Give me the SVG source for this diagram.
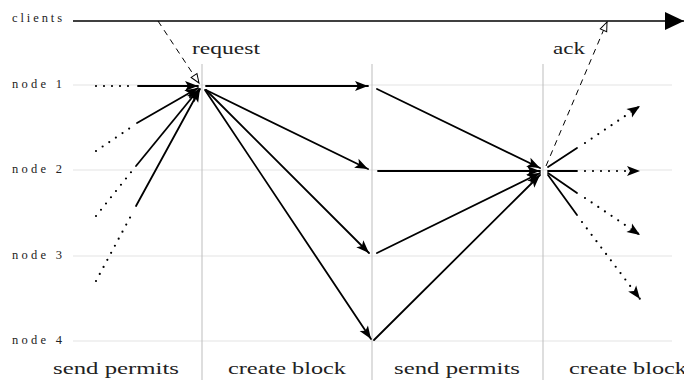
<svg xmlns="http://www.w3.org/2000/svg" width="684" height="380" viewBox="0 0 684 380">
<style>
.grid{stroke:#e3e3e3;stroke-width:1;fill:none}
.phase{stroke:#bdbdbd;stroke-width:1;fill:none}
.solid{stroke:#000;stroke-width:1.8;fill:none;stroke-linecap:round}
.dot{stroke:#000;stroke-width:2.2;fill:none;stroke-linecap:round;stroke-dasharray:0 8}
.dash{stroke:#000;stroke-width:1;fill:none;stroke-dasharray:6 5}
.lbl{font-family:"Liberation Serif","DejaVu Serif",serif;fill:#222}
.small{font-size:12.5px}
.big{font-size:17.5px}
</style>
<defs>
<marker id="ah" markerUnits="userSpaceOnUse" markerWidth="16" markerHeight="14" viewBox="-14 -7 16 14" refX="0" refY="0" orient="auto">
<path d="M0,0 L-13,-5 L-10,0 L-13,5 z" fill="#000"/>
</marker>
<marker id="open" markerUnits="userSpaceOnUse" markerWidth="14" markerHeight="12" viewBox="-12 -6 14 12" refX="0" refY="0" orient="auto">
<path d="M0,0 L-9,-3.5 L-9,3.5 z" fill="#fff" stroke="#000" stroke-width="1"/>
</marker>
<marker id="bigh" markerUnits="userSpaceOnUse" markerWidth="22" markerHeight="22" viewBox="-20 -11 22 22" refX="0" refY="0" orient="auto">
<path d="M0,0 L-19,-9 L-19,9 z" fill="#000"/>
</marker>
</defs>
<g id="grid">
<line class="grid" x1="73" y1="85" x2="672" y2="85"/>
<line class="grid" x1="73" y1="170" x2="672" y2="170"/>
<line class="grid" x1="73" y1="256" x2="672" y2="256"/>
<line class="grid" x1="73" y1="341" x2="672" y2="341"/>
<line class="phase" x1="202" y1="64" x2="202" y2="380"/>
<line class="phase" x1="372" y1="64" x2="372" y2="380"/>
<line class="phase" x1="543" y1="64" x2="543" y2="380"/>
</g>
<g id="clients"><text class="lbl small" x="62" y="22" text-anchor="end" textLength="50" lengthAdjust="spacing">clients</text></g>
<g id="node1"><text class="lbl small" x="62" y="88" text-anchor="end" textLength="50" lengthAdjust="spacing">node 1</text></g>
<g id="node2"><text class="lbl small" x="62" y="173" text-anchor="end" textLength="50" lengthAdjust="spacing">node 2</text></g>
<g id="node3"><text class="lbl small" x="62" y="259" text-anchor="end" textLength="50" lengthAdjust="spacing">node 3</text></g>
<g id="node4"><text class="lbl small" x="62" y="344" text-anchor="end" textLength="50" lengthAdjust="spacing">node 4</text></g>
<g id="labels">
<text class="lbl big" x="192" y="54" textLength="68" lengthAdjust="spacingAndGlyphs">request</text>
<text class="lbl big" x="553" y="54" textLength="32" lengthAdjust="spacingAndGlyphs">ack</text>
<text class="lbl big" x="53" y="374" textLength="126" lengthAdjust="spacingAndGlyphs">send permits</text>
<text class="lbl big" x="228" y="374" textLength="118" lengthAdjust="spacingAndGlyphs">create block</text>
<text class="lbl big" x="394" y="374" textLength="126" lengthAdjust="spacingAndGlyphs">send permits</text>
<text class="lbl big" x="569" y="374" textLength="118" lengthAdjust="spacingAndGlyphs">create block</text>
</g>
<g id="connectors">
<line x1="73" y1="21" x2="684" y2="21" stroke="#000" stroke-width="1.3" marker-end="url(#bigh)"/>
<line class="dash" x1="158" y1="21" x2="199" y2="83" marker-end="url(#open)"/>
<line class="dash" x1="546" y1="166" x2="607" y2="22" marker-end="url(#open)"/>
<line class="dot" x1="96" y1="86" x2="134" y2="86"/>
<line class="solid" x1="138" y1="86" x2="198" y2="86" marker-end="url(#ah)"/>
<line class="dot" x1="96" y1="151" x2="133" y2="126"/>
<line class="solid" x1="137" y1="123" x2="198" y2="88" marker-end="url(#ah)"/>
<line class="dot" x1="96" y1="216" x2="132" y2="171"/>
<line class="solid" x1="136" y1="166" x2="199" y2="89" marker-end="url(#ah)"/>
<line class="dot" x1="96" y1="281" x2="133" y2="212"/>
<line class="solid" x1="136" y1="206" x2="200" y2="89" marker-end="url(#ah)"/>
<line class="solid" x1="206" y1="86" x2="368" y2="86" marker-end="url(#ah)"/>
<line class="solid" x1="206" y1="90" x2="368" y2="169" marker-end="url(#ah)"/>
<line class="solid" x1="206" y1="90" x2="369" y2="253" marker-end="url(#ah)"/>
<line class="solid" x1="205" y1="90" x2="371" y2="339" marker-end="url(#ah)"/>
<line class="solid" x1="377" y1="89" x2="540" y2="168" marker-end="url(#ah)"/>
<line class="solid" x1="378" y1="171" x2="540" y2="171" marker-end="url(#ah)"/>
<line class="solid" x1="377" y1="253" x2="540" y2="173" marker-end="url(#ah)"/>
<line class="solid" x1="374" y1="340" x2="540" y2="175" marker-end="url(#ah)"/>
<line class="solid" x1="548" y1="167" x2="577" y2="148"/>
<line class="dot" x1="585" y1="143" x2="640" y2="106" marker-end="url(#ah)"/>
<line class="solid" x1="548" y1="171" x2="577" y2="171"/>
<line class="dot" x1="585" y1="171" x2="640" y2="171" marker-end="url(#ah)"/>
<line class="solid" x1="548" y1="173" x2="577" y2="193"/>
<line class="dot" x1="585" y1="198" x2="640" y2="235" marker-end="url(#ah)"/>
<line class="solid" x1="548" y1="175" x2="577" y2="215"/>
<line class="dot" x1="582" y1="222" x2="640" y2="299" marker-end="url(#ah)"/>
</g>
</svg>
